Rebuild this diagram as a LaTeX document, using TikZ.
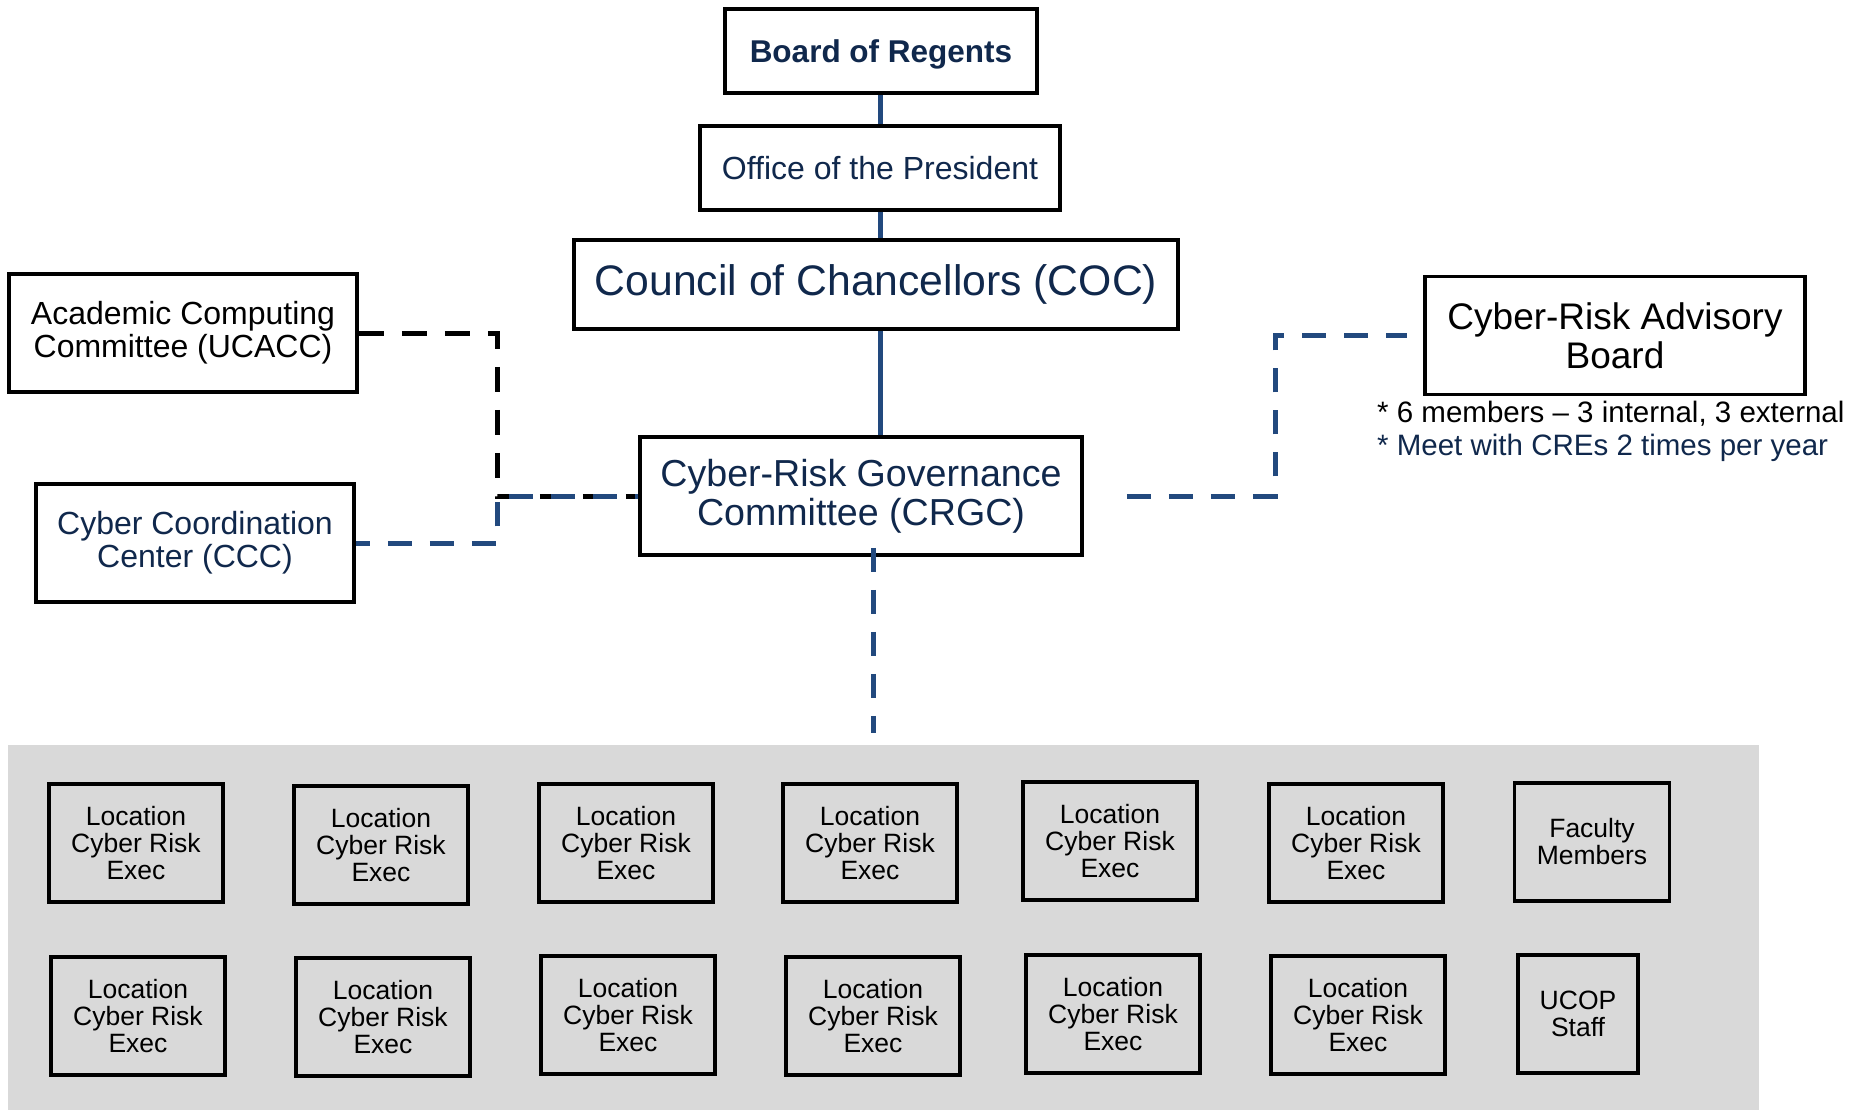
\documentclass[tikz,border=0pt]{standalone}
\usepackage{fontspec}
\setmainfont{Liberation Sans}
\definecolor{navy}{HTML}{10284C}
\definecolor{lineblue}{HTML}{22497E}
\definecolor{panel}{HTML}{D9D9D9}
\begin{document}
\begin{tikzpicture}[x=1pt,y=-1pt,
 box/.style={draw=black, line width=3.5pt, fill=white, inner sep=0pt, align=center},
 loc/.style={draw=black, line width=3.5pt, fill=panel, inner sep=0pt, align=center,
   minimum width=174pt, minimum height=118pt, font=\fontsize{26.5}{27}\selectfont},
 solidlink/.style={draw=lineblue, line width=5pt},
 bluedash/.style={draw=lineblue, line width=5pt, dash pattern=on 24pt off 18pt},
 blackdash/.style={draw=black, line width=5pt, dash pattern=on 25pt off 18pt},
]
\useasboundingbox (0,0) rectangle (1862,1110);
\fill[panel] (8,745) rectangle (1759,1110);

% top chain
\node[box, minimum width=312pt, minimum height=84pt, text=navy, text depth=0pt,
  font=\bfseries\fontsize{31.5}{33}\selectfont] (bor) at (881,51) {Board of Regents};
\node[box, minimum width=360pt, minimum height=84pt, text=navy,
  font=\fontsize{32}{34}\selectfont] (op) at (880,168) {Office of the President};
\node[box, minimum width=604pt, minimum height=89pt, text=navy,
  font=\fontsize{42.7}{44}\selectfont] (coc) at (876,284.5) {Council of Chancellors (COC)};
\node[box, minimum width=442pt, minimum height=118pt, text=navy,
  font=\fontsize{37.6}{39}\selectfont] (crgc) at (861,496) {Cyber-Risk Governance\\Committee (CRGC)};

% side boxes
\node[box, minimum width=348pt, minimum height=118pt, text=black,
  font=\fontsize{32}{33}\selectfont] (acc) at (183,333) {Academic Computing\\Committee (UCACC)};
\node[box, minimum width=318pt, minimum height=118pt, text=navy,
  font=\fontsize{32}{33}\selectfont] (ccc) at (195,543) {Cyber Coordination\\Center (CCC)};
\node[box, minimum width=380pt, minimum height=118pt, text=black,
  font=\fontsize{37}{39}\selectfont] (crab) at (1615,335.5) {Cyber-Risk Advisory\\Board};
\node[anchor=west, inner sep=0pt, text=black, font=\fontsize{29.5}{31}\selectfont]
  (note1) at (1377,414) {* 6 members -- 3 internal, 3 external};
\node[anchor=west, inner sep=0pt, text=navy, font=\fontsize{29.5}{31}\selectfont]
  (note2) at (1377,448) {* Meet with CREs 2 times per year};

% bottom panel boxes
\node[loc] (l1) at (136,843) {Location\\Cyber Risk\\Exec};
\node[loc] (l2) at (381,845) {Location\\Cyber Risk\\Exec};
\node[loc] (l3) at (626,843) {Location\\Cyber Risk\\Exec};
\node[loc] (l4) at (870,843) {Location\\Cyber Risk\\Exec};
\node[loc] (l5) at (1110,841) {Location\\Cyber Risk\\Exec};
\node[loc] (l6) at (1356,843) {Location\\Cyber Risk\\Exec};
\node[loc, minimum width=155pt] (fac) at (1592,842) {Faculty\\Members};
\node[loc] (m1) at (138,1016) {Location\\Cyber Risk\\Exec};
\node[loc] (m2) at (383,1017) {Location\\Cyber Risk\\Exec};
\node[loc] (m3) at (628,1015) {Location\\Cyber Risk\\Exec};
\node[loc] (m4) at (873,1016) {Location\\Cyber Risk\\Exec};
\node[loc] (m5) at (1113,1014) {Location\\Cyber Risk\\Exec};
\node[loc] (m6) at (1358,1015) {Location\\Cyber Risk\\Exec};
\node[loc, minimum width=120pt] (ucop) at (1578,1014) {UCOP\\Staff};

% helper coordinates
\coordinate (lx) at (497,0);
\coordinate (rx) at (1275,0);
\coordinate (dn) at (873,733);

% solid chain
\draw[solidlink] (op.north) -- (op.north |- bor.south);
\draw[solidlink] (op.south) -- (op.south |- coc.north);
\draw[solidlink] (op.south |- coc.south) -- (op.south |- crgc.north);

% left dashed links
\draw[blackdash] (acc.east) -- (acc.east -| lx) -- (lx |- crgc.west) -- (crgc.west);
\draw[bluedash, dash phase=10pt] (ccc.east) -- (ccc.east -| lx) -- (lx |- crgc.west) -- (crgc.west);

% right dashed link
\draw[bluedash, shorten <=43pt, shorten >=16pt] (crgc.east) -- (crgc.east -| rx) |- (crab.west);

% down dashed link
\draw[bluedash, shorten <=-9pt] (crgc.south -| dn) -- (dn);
\end{tikzpicture}
\end{document}
